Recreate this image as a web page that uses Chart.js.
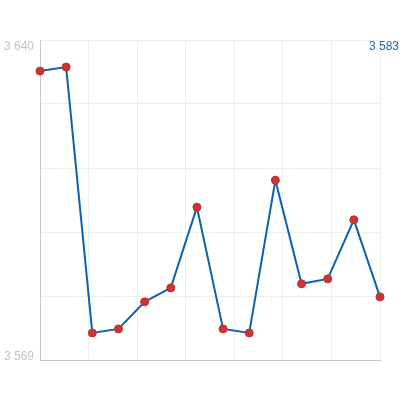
<!DOCTYPE html>
<html>
<head>
<meta charset="utf-8">
<script src="https://cdn.jsdelivr.net/npm/chart.js@4"></script>
<style>
  html, body { margin: 0; padding: 0; background: #fff; }
  #wrap { width: 420px; height: 400px; }
</style>
</head>
<body>
<div id="wrap"><canvas id="chart"></canvas></div>
<script>
  const labels = ['1', '2', '3', '4', '5', '6', '7', '8', '9', '10', '11', '12', '13', '14'];
  const values = [3633.1, 3634.0, 3575.0, 3575.9, 3581.9, 3585.0, 3602.9, 3575.9, 3575.0, 3608.9, 3585.9, 3587.0, 3600.1, 3583.0];
  const yMin = 3569;
  const yMax = 3640;

  const fmt = v => {
    const s = Math.round(v).toString();
    return s.replace(/\B(?=(\d{3})+(?!\d))/g, ' ');
  };

  const FONT = '12px "Liberation Sans", Arial, sans-serif';

  // min/max labels sit just inside the range, last value at top right
  const edgeLabels = {
    id: 'edgeLabels',
    afterDraw(chart) {
      const ctx = chart.ctx;
      const y = chart.scales.y;
      ctx.save();
      ctx.font = FONT;
      ctx.textBaseline = 'middle';
      ctx.textAlign = 'right';
      ctx.fillStyle = '#c4c4c4';
      ctx.fillText(fmt(yMax), y.right - 6, y.getPixelForValue(yMax) + 7);
      ctx.fillText(fmt(yMin), y.right - 6, y.getPixelForValue(yMin) - 3);
      ctx.fillStyle = '#1a6aaa';
      ctx.fillText(fmt(values[values.length - 1]), 399, y.getPixelForValue(yMax) + 7);
      ctx.restore();
    }
  };

  new Chart(document.getElementById('chart'), {
    type: 'line',
    data: {
      labels: labels,
      datasets: [{
        data: values,
        borderColor: '#0d62ad',
        borderWidth: 2,
        pointBackgroundColor: '#cc3333',
        pointBorderColor: '#c22e2e',
        pointBorderWidth: 1,
        pointRadius: 4,
        tension: 0,
        xAxisID: 'x',
        yAxisID: 'y'
      }]
    },
    options: {
      responsive: true,
      maintainAspectRatio: false,
      animation: false,
      layout: { padding: { top: 40, right: 40, bottom: 40, left: 0 } },
      plugins: {
        legend: { display: false },
        tooltip: { enabled: false }
      },
      scales: {
        x: {
          type: 'category',
          offset: false,
          grid: { display: false },
          border: { display: true, color: '#c8c8c8', width: 1 },
          ticks: { display: false },
          afterFit: s => { s.height = 0; }
        },
        xg: {
          type: 'linear',
          position: 'top',
          min: 0, max: 7,
          ticks: { display: false, stepSize: 1 },
          grid: { color: '#eeeeee', drawTicks: false },
          border: { display: false },
          afterFit: s => { s.height = 0; }
        },
        y: {
          min: yMin, max: yMax,
          grid: { display: false },
          border: { display: true, color: '#c8c8c8', width: 1 },
          ticks: { display: false },
          afterFit: s => { s.width = 40; }
        },
        yg: {
          type: 'linear',
          position: 'right',
          min: 0, max: 5,
          ticks: { display: false, stepSize: 1 },
          grid: { color: '#eeeeee', drawTicks: false },
          border: { display: false },
          afterFit: s => { s.width = 0; }
        }
      }
    },
    plugins: [edgeLabels]
  });
</script>
</body>
</html>
